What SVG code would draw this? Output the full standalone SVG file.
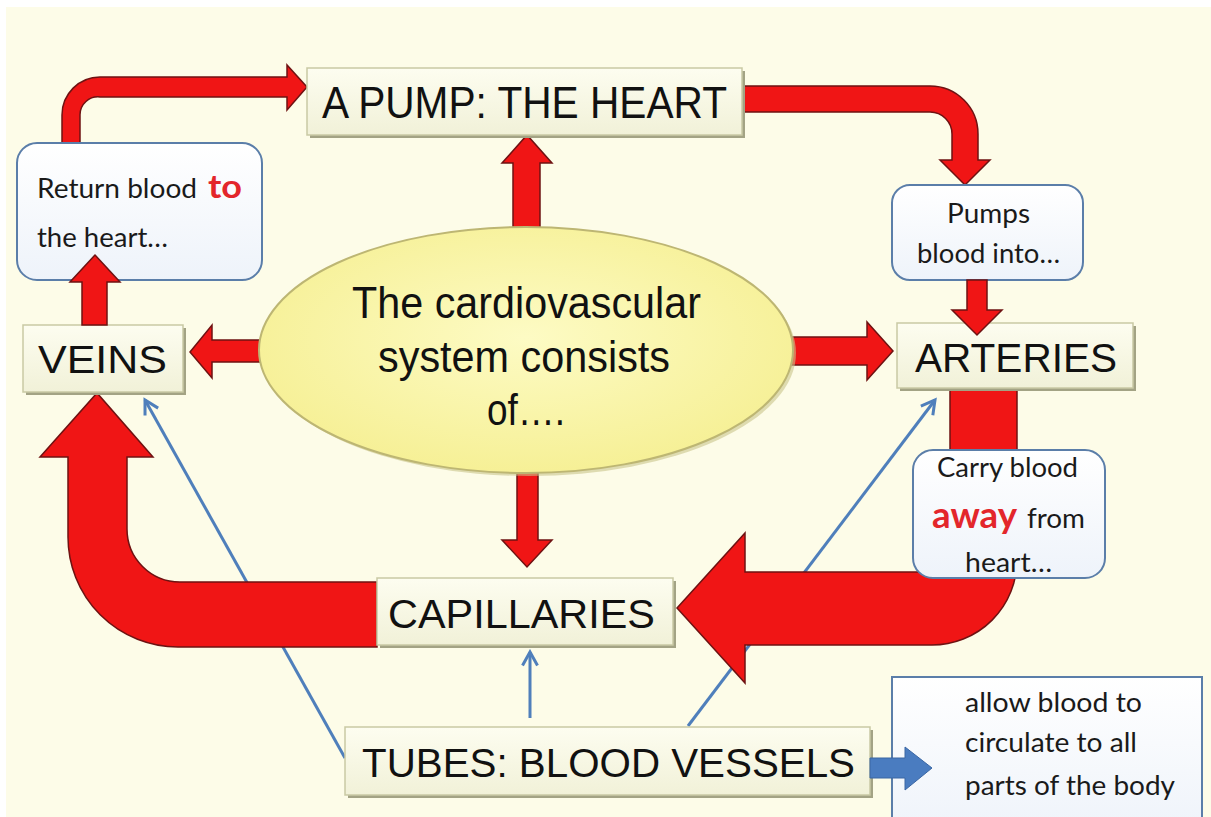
<svg xmlns="http://www.w3.org/2000/svg" width="1211" height="817" viewBox="0 0 1211 817">
<defs>
<style>
.box{fill:url(#boxg);stroke:#c9c9a4;stroke-width:1.5}
.shadow{fill:#a3a384}
.call{fill:url(#callg);stroke:#5b7ea9;stroke-width:2}
.red{fill:#f01515;stroke:#6e1212;stroke-width:1.5;stroke-linejoin:miter}
.blue{fill:none;stroke:#4f7fbb;stroke-width:3;marker-end:url(#bh)}
.big{font-family:"Liberation Sans",Arial,sans-serif;fill:#111}
.sm{font-family:Lato,"Liberation Sans",sans-serif;fill:#1a1a1a;font-size:26px}
.hl{font-family:Lato,"Liberation Sans",sans-serif;fill:#e3262b;font-weight:bold}
</style>
<linearGradient id="boxg" x1="0" y1="0" x2="0" y2="1">
<stop offset="0" stop-color="#fdfdf0"/>
<stop offset="1" stop-color="#f1f1d8"/>
</linearGradient>
<linearGradient id="callg" x1="0" y1="0" x2="0" y2="1">
<stop offset="0" stop-color="#ffffff"/>
<stop offset="1" stop-color="#eef3fa"/>
</linearGradient>
<radialGradient id="ellg" cx="0.5" cy="0.45" r="0.55">
<stop offset="0" stop-color="#fdfbc4"/>
<stop offset="1" stop-color="#f6f096"/>
</radialGradient>
<marker id="bh" viewBox="0 0 12 12" refX="10" refY="6" markerWidth="6" markerHeight="6" orient="auto" markerUnits="strokeWidth">
<path d="M1,1 L10,6 L1,11" fill="none" stroke="#4f7fbb" stroke-width="2"/>
</marker>
</defs>
<rect x="0" y="0" width="1211" height="817" fill="#ffffff"/>
<rect x="6" y="7" width="1205" height="810" fill="#fdfce8"/>

<g id="connectors">
<line class="blue" x1="345" y1="758" x2="145" y2="400"/>
<line class="blue" x1="688" y1="726" x2="935" y2="400"/>
<line class="blue" x1="530" y1="718" x2="530" y2="652"/>
<path class="red" d="M62 150 L62 115 A38 38 0 0 1 100 77 L287 77 L287 65 L307 87 L287 110 L287 97 L100 97 A18 18 0 0 0 80 115 L80 150 Z"/>
<path class="red" d="M735 86 L930 86 A48 48 0 0 1 978 134 L978 160 L990 160 L965 185 L940 160 L952 160 L952 134 A22 22 0 0 0 930 112 L735 112 Z"/>
<path class="red" d="M513 240 L513 163 L502 163 L527 135 L552 163 L540 163 L540 240 Z"/>
<path class="red" d="M517 460 L517 540 L502 540 L527 567 L552 540 L538 540 L538 460 Z"/>
<path class="red" d="M275 340 L212 340 L212 325 L190 352 L212 378 L212 362 L275 362 Z"/>
<path class="red" d="M780 337 L867 337 L867 322 L893 351 L867 380 L867 365 L780 365 Z"/>
<path class="red" d="M377 582 L180 582 A53 53 0 0 1 127 529 L127 457 L153 457 L97 393 L40 457 L68 457 L68 537 A110 110 0 0 0 178 647 L377 647 Z"/>
<path class="red" d="M950 389 L1017 389 L1017 560 A85 85 0 0 1 932 645 L745 645 L745 683 L677 608 L745 533 L745 572 L950 572 Z"/>
</g>

<g id="center">
<ellipse cx="529" cy="353" rx="267" ry="123" fill="#c9c48a" opacity="0.6"/>
<ellipse cx="526" cy="350" rx="267" ry="123" fill="url(#ellg)" stroke="#bdb673" stroke-width="2"/>
<text class="big" font-size="44" x="352" y="318" textLength="349" lengthAdjust="spacingAndGlyphs">The cardiovascular</text>
<text class="big" font-size="44" x="378" y="372" textLength="292" lengthAdjust="spacingAndGlyphs">system consists</text>
<text class="big" font-size="44" x="487" y="425" textLength="78" lengthAdjust="spacingAndGlyphs">of….</text>
</g>

<g id="heart">
<rect class="shadow" x="310" y="71" width="435" height="67"/>
<rect class="box" x="307" y="68" width="435" height="67"/>
<text class="big" font-size="44" x="322" y="118" textLength="405" lengthAdjust="spacingAndGlyphs">A PUMP: THE HEART</text>
</g>

<g id="veins">
<rect class="shadow" x="26" y="328" width="160" height="67"/>
<rect class="box" x="23" y="325" width="160" height="67"/>
<text class="big" font-size="39" x="38" y="373" textLength="129" lengthAdjust="spacingAndGlyphs">VEINS</text>
</g>

<g id="arteries">
<rect class="shadow" x="900" y="326" width="236" height="65"/>
<rect class="box" x="897" y="323" width="236" height="65"/>
<text class="big" font-size="40" x="915" y="372" textLength="202" lengthAdjust="spacingAndGlyphs">ARTERIES</text>
</g>

<g id="capillaries">
<rect class="shadow" x="380" y="581" width="296" height="67"/>
<rect class="box" x="377" y="578" width="296" height="67"/>
<text class="big" font-size="41" x="388" y="628" textLength="267" lengthAdjust="spacingAndGlyphs">CAPILLARIES</text>
</g>

<g id="tubes">
<rect class="shadow" x="348" y="730" width="525" height="68"/>
<rect class="box" x="345" y="727" width="525" height="68"/>
<text class="big" font-size="41" x="362" y="777" textLength="493" lengthAdjust="spacingAndGlyphs">TUBES: BLOOD VESSELS</text>
</g>

<g id="return-note">
<rect class="call" x="17" y="143" width="245" height="137" rx="20"/>
<text class="sm" x="37" y="198" textLength="160" lengthAdjust="spacingAndGlyphs">Return blood</text>
<text class="hl" font-size="32" x="208" y="198" textLength="34" lengthAdjust="spacingAndGlyphs">to</text>
<text class="sm" x="37" y="247" textLength="131" lengthAdjust="spacingAndGlyphs">the heart…</text>
</g>

<g id="pumps-note">
<rect class="call" x="892" y="185" width="191" height="95" rx="18"/>
<text class="sm" x="947" y="223" textLength="83" lengthAdjust="spacingAndGlyphs">Pumps</text>
<text class="sm" x="917" y="263" textLength="143" lengthAdjust="spacingAndGlyphs">blood into…</text>
</g>

<g id="carry-note">
<rect class="call" x="913" y="450" width="192" height="128" rx="20"/>
<text class="sm" x="937" y="477" textLength="141" lengthAdjust="spacingAndGlyphs">Carry blood</text>
<text class="hl" font-size="36" x="932" y="528" textLength="85" lengthAdjust="spacingAndGlyphs">away</text>
<text class="sm" x="1027" y="528" textLength="58" lengthAdjust="spacingAndGlyphs">from</text>
<text class="sm" x="965" y="572" textLength="87" lengthAdjust="spacingAndGlyphs">heart…</text>
</g>

<g id="allow-note">
<rect x="892" y="677" width="310" height="160" fill="url(#callg)" stroke="#5b7ea9" stroke-width="2"/>
<text class="sm" font-size="28" x="965" y="712" textLength="177" lengthAdjust="spacingAndGlyphs">allow blood to</text>
<text class="sm" font-size="28" x="965" y="752" textLength="172" lengthAdjust="spacingAndGlyphs">circulate to all</text>
<text class="sm" font-size="28" x="965" y="795" textLength="210" lengthAdjust="spacingAndGlyphs">parts of the body</text>
</g>

<g id="connectors-front">
<path class="red" d="M82 325 L82 282 L70 282 L95 255 L120 282 L107 282 L107 325 Z"/>
<path class="red" d="M967 280 L967 310 L952 310 L977 335 L1002 310 L987 310 L987 280 Z"/>
<path d="M870 758 L905 758 L905 747 L932 768 L905 790 L905 778 L870 778 Z" fill="#4a7cc0" stroke="#3a66a3" stroke-width="1"/>
</g>
</svg>
